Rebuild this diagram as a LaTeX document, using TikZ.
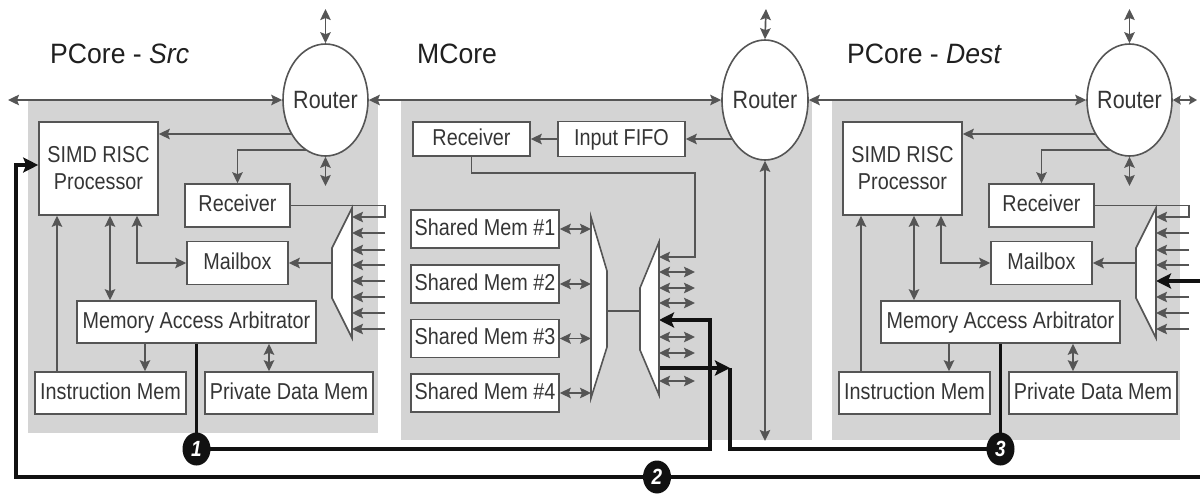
\documentclass[tikz,border=0pt]{standalone}
\usepackage{fontspec}
\setmainfont[FakeStretch=0.86]{Liberation Sans}
\newfontfamily\ttlfont[FakeStretch=0.95]{Liberation Sans}
\usetikzlibrary{arrows.meta,calc,shapes.geometric}
\pgfdeclarelayer{bg}
\pgfdeclarelayer{lines}
\pgfsetlayers{bg,lines,main}
\definecolor{panel}{HTML}{D4D4D4}
\definecolor{lgray}{HTML}{555555}
\definecolor{txt}{HTML}{353535}
\definecolor{blk}{HTML}{111111}
\tikzset{
 boxbase/.style={draw=lgray, line width=1.6pt, fill=white, inner sep=0pt, text=txt, font=\fontsize{23}{27}\selectfont, align=center},
 box/.style={boxbase, text height=16.5pt, text depth=4.5pt},
 wh/.style 2 args={minimum width=#1pt, minimum height=#2pt},
 rtr/.style={ellipse, draw=lgray, line width=1.6pt, fill=white, inner xsep=-12pt, inner ysep=0pt, text=txt, font=\fontsize{25}{26}\selectfont, minimum width=85pt, minimum height=112pt},
 ga/.style={draw=lgray, line width=1.7pt, >={Stealth[length=11pt,width=10.5pt,inset=2pt]}},
 gsmall/.style={draw=lgray, line width=1.7pt, >={Stealth[length=8pt,width=9pt,inset=1.5pt]}},
 tk/.style={draw=blk, line width=3.8pt, >={Stealth[length=15pt,width=15pt,inset=3pt]}},
 muxs/.style={draw=lgray, line width=1.6pt, fill=white, line join=miter},
 num/.style={ellipse, fill=blk, draw=none, minimum width=28pt, minimum height=33pt, inner sep=0pt, text=white, font=\fontsize{22}{22}\selectfont\bfseries\itshape},
 ttl/.style={anchor=base west, text=black!88, font=\ttlfont\fontsize{28}{30}\selectfont, inner sep=0pt},
}
\newcommand\pcoreparts{%
 \node[rtr] (router) at (325.5,100) {Router};
 \node[boxbase, wh={119}{93}] (proc) at (98.5,168.5) {SIMD RISC\\Processor};
 \node[box, wh={105}{43}] (recv) at (237.5,205.5) {Receiver};
 \node[box, wh={101}{43}] (mail) at (237.5,263) {Mailbox};
 \node[box, wh={239}{42}] (maa) at (196.5,322) {Memory Access Arbitrator};
 \node[box, wh={151}{42}] (imem) at (110.5,393) {Instruction Mem};
 \node[box, wh={168}{42}] (pmem) at (289,393) {Private Data Mem};
 \draw[muxs] (352,208) -- (332,248) -- (332,298) -- (352,338) -- cycle;
 \coordinate (muxout) at (332,263);
 \coordinate (in1) at (352,217);
 \coordinate (in1r) at (385,217);
 \coordinate (rb) at (325.5,186);
 \coordinate (rt) at (325.5,9);
 \begin{pgfonlayer}{lines}
 \draw[ga,->] ($(router.center)+(0,34)$) -- (proc.east |- 0,134);
 \draw[ga,->] ($(router.center)+(0,50)$) -| (recv.north);
 \draw[ga,<->] (router.south) -- (rb);
 \draw[ga,<->] (router.north) -- (rt);
 \draw[ga,->] (imem.north -| 57,0) -- (proc.south -| 57,0);
 \draw[ga,<->] (proc.south -| 110,0) -- (maa.north -| 110,0);
 \draw[ga,<->] (proc.south -| 137,0) |- (mail.west);
 \draw[ga,->] (maa.south -| 145,0) -- (imem.north -| 145,0);
 \draw[ga,<->] (maa.south -| 269,0) -- (pmem.north -| 269,0);
 \draw[ga,->] (muxout) -- (mail.east);
 \draw[ga,->] (recv.east) -| (in1r) -- (in1);
 \foreach \yy in {233,250,265,297,313,329} \draw[ga,->] (385,\yy) -- (352,\yy);
 \end{pgfonlayer}
}
\begin{document}
\begin{tikzpicture}[x=1pt,y=-1pt]
\useasboundingbox (0,0) rectangle (1200,493);
\begin{pgfonlayer}{bg}
\fill[white] (0,0) rectangle (1200,493);
\fill[panel] (28,100) rectangle (378,433);
\fill[panel] (401,100) rectangle (812,440);
\fill[panel] (832,100) rectangle (1180,440);
\end{pgfonlayer}

\node[ttl] (t1) at (50,63) {PCore - \textit{Src}};
\node[ttl] (t2) at (417,63) {MCore};
\node[ttl] (t3) at (847,63) {PCore - \textit{Dest}};

\begin{scope}[name prefix=l-]
\pcoreparts
\draw[ga,->] (385,281) -- (352,281);
\end{scope}
\begin{scope}[xshift=804pt, name prefix=r-]
\pcoreparts
\end{scope}

% MCore
\node[rtr, minimum width=86pt, minimum height=120pt] (m-router) at (765,100) {Router};
\node[box, wh={117}{34}] (m-recv) at (471.5,139) {Receiver};
\node[box, wh={127}{35}] (m-fifo) at (621.5,139) {Input FIFO};
\node[box, wh={148}{38}] (m-s1) at (485,229) {Shared Mem \#1};
\node[box, wh={148}{38}] (m-s2) at (485,284) {Shared Mem \#2};
\node[box, wh={148}{38}] (m-s3) at (485,338.5) {Shared Mem \#3};
\node[box, wh={148}{38}] (m-s4) at (485,393) {Shared Mem \#4};
\draw[muxs] (591,217) -- (607,271) -- (607,347) -- (591,398) -- cycle;
\draw[muxs] (659,242) -- (640,288) -- (640,350) -- (659,395) -- cycle;
\coordinate (m2in) at (659,320);
\coordinate (m2out) at (659,368);
\coordinate (mrt) at (766,9);
\coordinate (mrb) at (765,441);
\coordinate (busW) at (8,100);
\coordinate (busE) at (1197,100);
\coordinate (j1) at (710,449);
\coordinate (j3) at (730,368);
\coordinate (p2b) at (1212,477);
\coordinate (rin5) at (1156,281);

\node[num] (c1) at (196.5,449) {1};
\node[num] (c2) at (657,477) {2};
\node[num] (c3) at (1000.5,449) {3};

\begin{pgfonlayer}{lines}
\draw[ga,<->] (busW) -- (l-router.west);
\draw[ga,<->] (l-router.east) -- (m-router.west);
\draw[ga,<->] (m-router.east) -- (r-router.west);
\draw[gsmall,<->] (r-router.east) -- (busE);
\draw[ga,<->] (m-router.north) -- (mrt);
\draw[ga,<->] (m-router.south) -- (mrb);
\draw[ga,->] ($(m-router.center)+(0,39)$) -- (m-fifo.east);
\draw[ga,->] (m-fifo.west) -- (m-recv.east);
\draw[ga,->] (m-recv.south) |- (695,173) |- (659,257);
\foreach \s in {1,2,3,4} \draw[ga,<->] (m-s\s.east) -- (m-s\s.east -| 591,0);
\draw[ga] (607,311) -- (640,311);
\foreach \yy in {272,288,303,337,353,381} \draw[ga,<->] (659,\yy) -- (695,\yy);
% thick paths
\draw[tk,->] (l-maa.south) -- (c1.center) -- (j1) |- (m2in);
\draw[tk,<->] (l-proc.west |- 0,165) -| (c2.center -| 16,0) -- (c2.center) -- (p2b) |- (rin5);
\draw[tk,->] (m2out) -- (j3);
\draw[tk] (j3) |- (c3.center) -- (r-maa.south);
\end{pgfonlayer}
\end{tikzpicture}
\end{document}
